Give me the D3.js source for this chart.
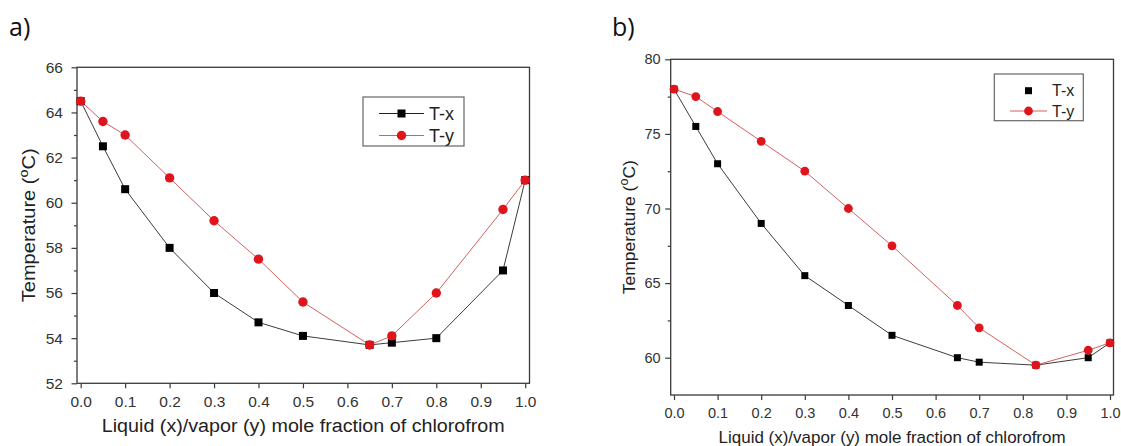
<!DOCTYPE html>
<html>
<head>
<meta charset="utf-8">
<script src="https://cdn.jsdelivr.net/npm/d3@7"></script>
<style>
  html, body { margin: 0; padding: 0; background: #fff; }
  svg { display: block; }
  text { font-family: "Liberation Sans", Arial, sans-serif; }
</style>
</head>
<body>
<svg id="chart" width="1121" height="446"></svg>
<script>
// Mole fractions of chloroform and boiling temperatures (°C)
const fracA = [0, 0.05, 0.1, 0.2, 0.3, 0.4, 0.5, 0.65, 0.7, 0.8, 0.95, 1.0];
const txA   = [64.5, 62.5, 60.6, 58.0, 56.0, 54.7, 54.1, 53.7, 53.8, 54.0, 57.0, 61.0];
const tyA   = [64.5, 63.6, 63.0, 61.1, 59.2, 57.5, 55.6, 53.7, 54.1, 56.0, 59.7, 61.0];

const fracB = [0, 0.05, 0.1, 0.2, 0.3, 0.4, 0.5, 0.65, 0.7, 0.83, 0.95, 1.0];
const txB   = [78.0, 75.5, 73.0, 69.0, 65.5, 63.5, 61.5, 60.0, 59.7, 59.5, 60.0, 61.0];
const tyB   = [78.0, 77.5, 76.5, 74.5, 72.5, 70.0, 67.5, 63.5, 62.0, 59.5, 60.5, 61.0];

const xTicks  = [0, 0.1, 0.2, 0.3, 0.4, 0.5, 0.6, 0.7, 0.8, 0.9, 1.0];
const yTicksA = [52, 54, 56, 58, 60, 62, 64, 66];
const yMinorA = [53, 55, 57, 59, 61, 63, 65];
const yTicksB = [60, 65, 70, 75, 80];
const yMinorB = [62.5, 67.5, 72.5, 77.5];
const yDomainA = [52, 66];
const yDomainB = [57.5, 80];

const seriesNames = ["T-x", "T-y"];
const xTitle = "Liquid (x)/vapor (y) mole fraction of chlorofrom";

const svg = d3.select("#chart");

const panels = [
  {
    tag: "a)", tagX: 9, tagY: 36,
    frame: { l: 77, r: 529.5, t: 67.3, b: 383.3 },
    xr: [80.7, 525.2],
    yDomain: yDomainA, yTicks: yTicksA, yMinor: yMinorA,
    frac: fracA, tx: txA, ty: tyA,
    tickFont: 15.5, tickPad: 8.5, xLabelDy: 24,
    xTitleY: 432, xTitleFont: 18, xTitleLen: 403,
    yTitleX: 35, yTitleFont: 17.5, yTitleLen: 154,
    sq: 8, rad: 4.7,
    legend: { x: 363, y: 97, w: 101, h: 49, rows: [113.5, 135.5], l1: 379, l2: 424, tx: 429, font: 18, txLine: true }
  },
  {
    tag: "b)", tagX: 612, tagY: 36,
    frame: { l: 670.7, r: 1113.5, t: 59.3, b: 395 },
    xr: [674, 1110],
    yDomain: yDomainB, yTicks: yTicksB, yMinor: yMinorB,
    frac: fracB, tx: txB, ty: tyB,
    tickFont: 14.5, tickPad: 4.5, xLabelDy: 22.5,
    xTitleY: 443, xTitleFont: 17, xTitleLen: 347,
    yTitleX: 635, yTitleFont: 16.5, yTitleLen: 134,
    sq: 7, rad: 4.4,
    legend: { x: 994.3, y: 74, w: 89, h: 46.7, rows: [90.7, 111], l1: 1010, l2: 1047, tx: 1052, font: 16, txLine: false }
  }
];

const axisColor = "#3a3a3a";
const blackLine = "#3c3c3c";
const redLine = "#d46060";
const redFill = "#e0141b";

panels.forEach(p => {
  const g = svg.append("g");
  const f = p.frame;

  const x = d3.scaleLinear().domain([0, 1]).range(p.xr);
  const y = d3.scaleLinear().domain(p.yDomain).range([f.b, f.t]);

  // panel tag
  g.append("text")
    .attr("x", p.tagX).attr("y", p.tagY)
    .style("font-family", "'Open Sans', 'Noto Sans', sans-serif")
    .style("font-size", "25px")
    .attr("fill", "#111")
    .text(p.tag);

  // bottom axis (ticks + labels only; the frame is drawn separately)
  const xAxis = g.append("g")
    .attr("transform", `translate(0,${f.b})`)
    .call(d3.axisBottom(x).tickValues(xTicks).tickFormat(d3.format(".1f")).tickSize(5).tickPadding(4));
  xAxis.select(".domain").remove();
  xAxis.selectAll(".tick line").attr("stroke", axisColor).attr("stroke-width", 1.2);
  xAxis.selectAll(".tick text")
    .attr("fill", "#333").attr("dy", null).attr("y", p.xLabelDy)
    .style("font-size", p.tickFont + "px")
    .style("font-family", "'Liberation Sans', Arial, sans-serif");

  // left axis with minor ticks
  const yAxis = g.append("g")
    .attr("transform", `translate(${f.l},0)`)
    .call(d3.axisLeft(y).tickValues(p.yTicks).tickFormat(d3.format("d")).tickSize(5.5).tickPadding(p.tickPad));
  yAxis.select(".domain").remove();
  yAxis.selectAll(".tick line").attr("stroke", axisColor).attr("stroke-width", 1.2);
  yAxis.selectAll(".tick text")
    .attr("fill", "#333")
    .style("font-size", p.tickFont + "px")
    .style("font-family", "'Liberation Sans', Arial, sans-serif");

  const yMinorAxis = g.append("g")
    .attr("transform", `translate(${f.l},0)`)
    .call(d3.axisLeft(y).tickValues(p.yMinor).tickFormat("").tickSize(3));
  yMinorAxis.select(".domain").remove();
  yMinorAxis.selectAll(".tick line").attr("stroke", axisColor).attr("stroke-width", 1.2);

  // plot frame
  g.append("rect")
    .attr("x", f.l).attr("y", f.t)
    .attr("width", f.r - f.l).attr("height", f.b - f.t)
    .attr("fill", "none").attr("stroke", axisColor).attr("stroke-width", 1.3);

  // axis titles
  g.append("text")
    .attr("x", (f.l + f.r) / 2).attr("y", p.xTitleY)
    .attr("text-anchor", "middle")
    .attr("fill", "#222")
    .attr("textLength", p.xTitleLen).attr("lengthAdjust", "spacingAndGlyphs")
    .style("font-size", p.xTitleFont + "px")
    .text(xTitle);

  const yt = g.append("text")
    .attr("transform", `translate(${p.yTitleX},${(f.t + f.b) / 2}) rotate(-90)`)
    .attr("text-anchor", "middle")
    .attr("fill", "#222")
    .attr("textLength", p.yTitleLen).attr("lengthAdjust", "spacingAndGlyphs")
    .style("font-size", p.yTitleFont + "px");
  yt.append("tspan").text("Temperature (");
  yt.append("tspan").attr("dy", -p.yTitleFont * 0.4).style("font-size", (p.yTitleFont * 0.72) + "px").text("o");
  yt.append("tspan").attr("dy", p.yTitleFont * 0.4).text("C)");

  // data
  const ptsX = p.frac.map((v, i) => [v, p.tx[i]]);
  const ptsY = p.frac.map((v, i) => [v, p.ty[i]]);
  const line = d3.line().x(d => x(d[0])).y(d => y(d[1]));

  g.append("path").datum(ptsX)
    .attr("d", line).attr("fill", "none")
    .attr("stroke", blackLine).attr("stroke-width", 1);
  g.append("path").datum(ptsY)
    .attr("d", line).attr("fill", "none")
    .attr("stroke", redLine).attr("stroke-width", 1);

  g.append("g").selectAll("rect").data(ptsX).join("rect")
    .attr("x", d => x(d[0]) - p.sq / 2).attr("y", d => y(d[1]) - p.sq / 2)
    .attr("width", p.sq).attr("height", p.sq)
    .attr("fill", "#000");
  g.append("g").selectAll("circle").data(ptsY).join("circle")
    .attr("cx", d => x(d[0])).attr("cy", d => y(d[1]))
    .attr("r", p.rad)
    .attr("fill", redFill);

  // legend
  const L = p.legend;
  const lg = g.append("g");
  lg.append("rect")
    .attr("x", L.x).attr("y", L.y).attr("width", L.w).attr("height", L.h)
    .attr("fill", "#fff").attr("stroke", "#666").attr("stroke-width", 1.2);
  const mid = (L.l1 + L.l2) / 2;
  // T-x row
  if (L.txLine) {
    lg.append("line").attr("x1", L.l1).attr("x2", L.l2)
      .attr("y1", L.rows[0]).attr("y2", L.rows[0])
      .attr("stroke", "#222").attr("stroke-width", 1);
  }
  lg.append("rect")
    .attr("x", mid - p.sq / 2).attr("y", L.rows[0] - p.sq / 2)
    .attr("width", p.sq).attr("height", p.sq).attr("fill", "#000");
  // T-y row
  lg.append("line").attr("x1", L.l1).attr("x2", L.l2)
    .attr("y1", L.rows[1]).attr("y2", L.rows[1])
    .attr("stroke", redLine).attr("stroke-width", 1);
  lg.append("circle").attr("cx", mid).attr("cy", L.rows[1]).attr("r", p.rad).attr("fill", redFill);

  seriesNames.forEach((name, i) => {
    lg.append("text")
      .attr("x", L.tx).attr("y", L.rows[i]).attr("dy", "0.36em")
      .attr("fill", "#222")
      .style("font-size", L.font + "px")
      .text(name);
  });
});
</script>
</body>
</html>
